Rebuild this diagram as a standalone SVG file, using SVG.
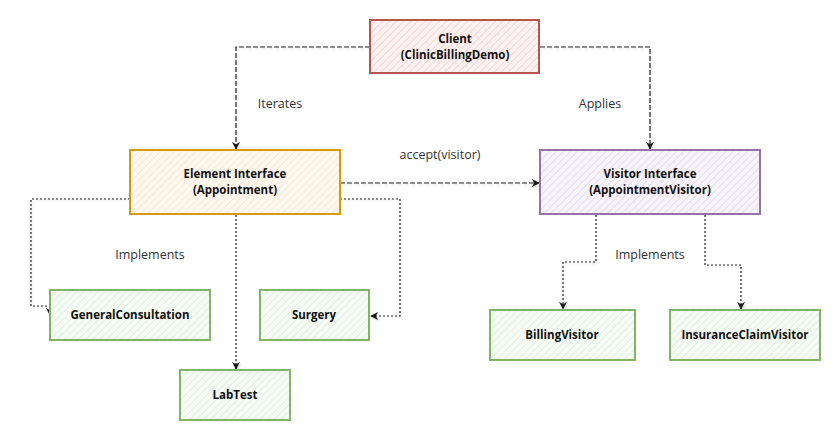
<svg xmlns="http://www.w3.org/2000/svg" width="840" height="440" viewBox="0 0 840 440">
<defs>
  <pattern id="hRed" patternUnits="userSpaceOnUse" width="5" height="5" patternTransform="rotate(45)">
    <rect width="5" height="5" fill="#fdf3f2"/><line x1="0" y1="0" x2="0" y2="5" stroke="#f3b6b3" stroke-width="1"/>
  </pattern>
  <pattern id="hOrange" patternUnits="userSpaceOnUse" width="5" height="5" patternTransform="rotate(45)">
    <rect width="5" height="5" fill="#fff8f0"/><line x1="0" y1="0" x2="0" y2="5" stroke="#fcd9b4" stroke-width="1"/>
  </pattern>
  <pattern id="hPurple" patternUnits="userSpaceOnUse" width="5" height="5" patternTransform="rotate(45)">
    <rect width="5" height="5" fill="#f8f4fa"/><line x1="0" y1="0" x2="0" y2="5" stroke="#d6c6e0" stroke-width="1"/>
  </pattern>
  <pattern id="hGreen" patternUnits="userSpaceOnUse" width="5" height="5" patternTransform="rotate(45)">
    <rect width="5" height="5" fill="#f6fbf5"/><line x1="0" y1="0" x2="0" y2="5" stroke="#cfe6cc" stroke-width="1"/>
  </pattern>
  <marker id="arr" viewBox="0 0 10 10" refX="9" refY="5" markerWidth="8" markerHeight="8" markerUnits="userSpaceOnUse" orient="auto">
    <path d="M0,0 L10,5 L0,10 L3,5 Z" fill="#1a1a1a"/>
  </marker>
  <filter id="sh" filterUnits="userSpaceOnUse" x="0" y="0" width="840" height="440">
    <feDropShadow dx="1.5" dy="1.5" stdDeviation="1" flood-color="#000" flood-opacity="0.15"/>
  </filter>
</defs>
<style>
  .node rect { stroke-width: 2; }
  .red rect { fill: url(#hRed); stroke: #b85450; }
  .orange rect { fill: url(#hOrange); stroke: #d79b00; }
  .purple rect { fill: url(#hPurple); stroke: #9673a6; }
  .green rect { fill: url(#hGreen); stroke: #82b366; }
  .node text { font-family: "Open Sans", "Liberation Sans", sans-serif; font-size: 11.5px; font-weight: 700; fill: #111; text-anchor: middle; }
  .edge { fill: none; stroke: #222; stroke-width: 1.2; filter: url(#sh); }
  .dash { stroke-dasharray: 5 2; }
  .dot { stroke-dasharray: 2 2; }
  .lbl { font-family: "Open Sans", "Liberation Sans", sans-serif; font-size: 12.5px; fill: #333; text-anchor: middle; }
</style>
<rect width="840" height="440" fill="#ffffff"/>

<g id="connectors">
  <path class="edge dash" d="M370,47 H236 V149" marker-end="url(#arr)"/>
  <path class="edge dash" d="M540,47 H650 V149" marker-end="url(#arr)"/>
  <path class="edge dash" d="M340,183 H539" marker-end="url(#arr)"/>
  <path class="edge dot" d="M130,199 H31 V306 H50 V315" marker-end="url(#arr)"/>
  <path class="edge dot" d="M236,215 V369" marker-end="url(#arr)"/>
  <path class="edge dot" d="M340,199 H400 V316 H371" marker-end="url(#arr)"/>
  <path class="edge dot" d="M596,215 V262 H563 V309" marker-end="url(#arr)"/>
  <path class="edge dot" d="M705,215 V265 H741 V309" marker-end="url(#arr)"/>
  <text class="lbl" x="280" y="108">Iterates</text>
  <text class="lbl" x="600" y="108">Applies</text>
  <text class="lbl" x="440" y="159">accept(visitor)</text>
  <text class="lbl" x="150" y="259">Implements</text>
  <text class="lbl" x="650" y="259">Implements</text>
</g>

<g id="client" class="node red">
  <rect x="370" y="20" width="169" height="53"/>
  <text x="455" y="43">Client</text>
  <text x="455" y="59">(ClinicBillingDemo)</text>
</g>
<g id="element" class="node orange">
  <rect x="130" y="150" width="210" height="64"/>
  <text x="235" y="178">Element Interface</text>
  <text x="235" y="194">(Appointment)</text>
</g>
<g id="visitor" class="node purple">
  <rect x="540" y="150" width="220" height="64"/>
  <text x="650" y="178">Visitor Interface</text>
  <text x="650" y="194">(AppointmentVisitor)</text>
</g>
<g id="generalconsultation" class="node green">
  <rect x="50" y="290" width="160" height="50"/>
  <text x="130" y="319">GeneralConsultation</text>
</g>
<g id="surgery" class="node green">
  <rect x="260" y="290" width="109" height="50"/>
  <text x="314" y="319">Surgery</text>
</g>
<g id="labtest" class="node green">
  <rect x="180" y="370" width="110" height="50"/>
  <text x="235" y="399">LabTest</text>
</g>
<g id="billingvisitor" class="node green">
  <rect x="490" y="310" width="145" height="50"/>
  <text x="562" y="339">BillingVisitor</text>
</g>
<g id="insuranceclaimvisitor" class="node green">
  <rect x="670" y="310" width="150" height="50"/>
  <text x="745" y="339">InsuranceClaimVisitor</text>
</g>
</svg>
